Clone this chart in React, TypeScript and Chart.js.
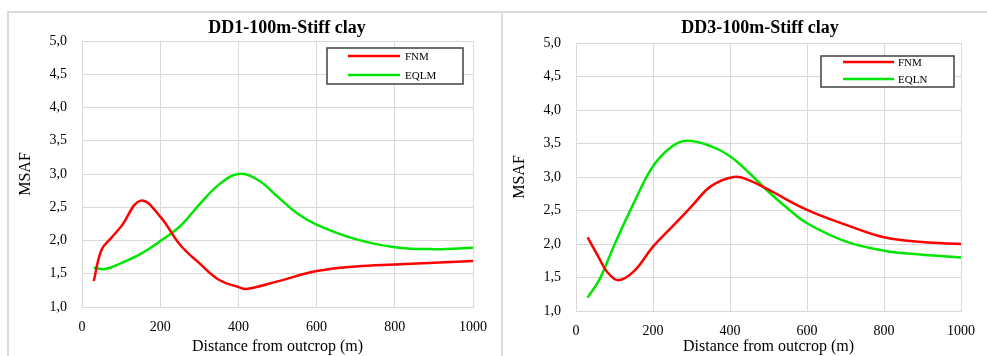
import React, { useEffect, useRef } from "react";
import { Chart, registerables } from "chart.js";

Chart.register(...registerables);

// ---------- data ----------
const xTickValues = [0, 200, 400, 600, 800, 1000];
const yTickValues = [1.0, 1.5, 2.0, 2.5, 3.0, 3.5, 4.0, 4.5, 5.0];

const dd1Title = "DD1-100m-Stiff clay";
const dd1Labels = ["FNM", "EQLM"];
const dd1FnmX = [30, 50, 75, 100, 150, 200, 250, 300, 350, 400, 420, 500, 600, 700, 800, 1000];
const dd1FnmY = [1.39, 1.86, 2.04, 2.21, 2.6, 2.36, 1.94, 1.66, 1.41, 1.3, 1.27, 1.385, 1.54, 1.61, 1.64, 1.69];
const dd1EqlX = [30, 60, 100, 150, 200, 250, 300, 350, 400, 450, 500, 550, 600, 700, 800, 900, 1000];
const dd1EqlY = [1.59, 1.57, 1.66, 1.8, 1.99, 2.21, 2.54, 2.84, 3.0, 2.91, 2.66, 2.41, 2.24, 2.02, 1.9, 1.87, 1.89];

const dd3Title = "DD3-100m-Stiff clay";
const dd3Labels = ["FNM", "EQLN"];
const dd3FnmX = [30, 60, 80, 110, 150, 200, 250, 300, 350, 410, 450, 500, 600, 700, 800, 900, 1000];
const dd3FnmY = [2.1, 1.79, 1.59, 1.46, 1.59, 1.96, 2.26, 2.56, 2.86, 3.0, 2.95, 2.81, 2.51, 2.29, 2.1, 2.03, 2.0];
const dd3EqlX = [30, 60, 100, 150, 200, 250, 290, 350, 400, 450, 500, 550, 600, 700, 800, 900, 1000];
const dd3EqlY = [1.2, 1.46, 1.99, 2.61, 3.16, 3.46, 3.54, 3.46, 3.31, 3.06, 2.78, 2.53, 2.31, 2.04, 1.9, 1.84, 1.8];

const xAxisTitle = "Distance from outcrop (m)";
const yAxisTitle = "MSAF";

const RED = "#ff0000";
const GREEN = "#00e600";
const GRID = "#d9d9d9";
const SERIF = "'Liberation Serif', 'Times New Roman', serif";

type PanelProps = {
  left: number;
  top: number;
  width: number;
  height: number;
  plotLeft: number;
  plotRight: number;
  plotTop: number;
  plotBottom: number;
  title: string;
  titleX: number;
  titleY: number;
  labels: string[];
  seriesA: { x: number[]; y: number[] };
  seriesB: { x: number[]; y: number[] };
  legendBox: { x: number; y: number; w: number; h: number; lineX1: number; lineX2: number; textX: number; row1: number; row2: number };
};

function toPoints(xs: number[], ys: number[]) {
  return xs.map((x, i) => ({ x, y: ys[i] }));
}

function Panel(p: PanelProps) {
  const ref = useRef<HTMLCanvasElement | null>(null);
  useEffect(() => {
    if (!ref.current) return;
    const titlePlugin = {
      id: "panelTitle",
      afterDraw(chart: any) {
        const ctx = chart.ctx;
        ctx.save();
        ctx.font = `bold 18px ${SERIF}`;
        ctx.fillStyle = "#000";
        ctx.textAlign = "center";
        ctx.textBaseline = "middle";
        ctx.fillText(p.title, p.titleX, p.titleY);
        ctx.restore();
      },
    };
    const legendPlugin = {
      id: "boxLegend",
      afterDraw(chart: any) {
        const ctx = chart.ctx;
        const b = p.legendBox;
        ctx.save();
        ctx.fillStyle = "#fff";
        ctx.fillRect(b.x, b.y, b.w, b.h);
        ctx.strokeStyle = "#404040";
        ctx.lineWidth = 1.5;
        ctx.strokeRect(b.x, b.y, b.w, b.h);
        const rows = [b.row1, b.row2];
        chart.data.datasets.forEach((ds: any, i: number) => {
          ctx.strokeStyle = ds.borderColor;
          ctx.lineWidth = 2.5;
          ctx.beginPath();
          ctx.moveTo(b.lineX1, rows[i]);
          ctx.lineTo(b.lineX2, rows[i]);
          ctx.stroke();
          ctx.fillStyle = "#000";
          ctx.font = `11px ${SERIF}`;
          ctx.textAlign = "left";
          ctx.textBaseline = "middle";
          ctx.fillText(ds.label, b.textX, rows[i] + 1);
        });
        ctx.restore();
      },
    };
    const chart = new Chart(ref.current, {
      type: "line",
      data: {
        datasets: [
          {
            label: p.labels[0],
            data: toPoints(p.seriesA.x, p.seriesA.y),
            borderColor: RED,
            backgroundColor: RED,
            borderWidth: 2.5,
            pointRadius: 0,
            tension: 0.4,
          },
          {
            label: p.labels[1],
            data: toPoints(p.seriesB.x, p.seriesB.y),
            borderColor: GREEN,
            backgroundColor: GREEN,
            borderWidth: 2.5,
            pointRadius: 0,
            tension: 0.4,
          },
        ],
      },
      options: {
        animation: false,
        responsive: false,
        maintainAspectRatio: false,
        layout: {
          padding: { left: 0, top: p.plotTop, right: p.width - p.plotRight, bottom: 0 },
        },
        plugins: {
          legend: { display: false },
          title: { display: false },
          tooltip: { enabled: false },
        },
        scales: {
          x: {
            type: "linear",
            min: 0,
            max: 1000,
            afterBuildTicks: (s: any) => {
              s.ticks = xTickValues.map((v) => ({ value: v }));
            },
            afterFit: (s: any) => {
              s.height = p.height - p.plotBottom;
            },
            grid: { color: GRID, lineWidth: 1, drawTicks: false },
            border: { color: GRID, width: 1 },
            ticks: {
              padding: 12,
              color: "#000",
              font: { family: SERIF, size: 14 },
              maxRotation: 0,
              callback: (v: any) => String(v),
            },
            title: {
              display: true,
              text: xAxisTitle,
              color: "#000",
              font: { family: SERIF, size: 16 },
              padding: { top: 0, bottom: 0 },
            },
          },
          y: {
            type: "linear",
            min: 1,
            max: 5,
            afterBuildTicks: (s: any) => {
              s.ticks = yTickValues.map((v) => ({ value: v }));
            },
            afterFit: (s: any) => {
              s.width = p.plotLeft;
            },
            grid: { color: GRID, lineWidth: 1, drawTicks: false },
            border: { color: GRID, width: 1 },
            ticks: {
              padding: 15,
              color: "#000",
              font: { family: SERIF, size: 14 },
              callback: (v: any) => Number(v).toFixed(1).replace(".", ","),
            },
            title: {
              display: true,
              text: yAxisTitle,
              color: "#000",
              font: { family: SERIF, size: 16 },
              padding: { top: 8, bottom: 0 },
            },
          },
        },
      },
      plugins: [titlePlugin, legendPlugin],
    } as any);
    return () => chart.destroy();
  }, []);
  return (
    <canvas
      ref={ref}
      width={p.width}
      height={p.height}
      style={{ position: "absolute", left: p.left, top: p.top, width: p.width, height: p.height }}
    />
  );
}

export default function App() {
  return (
    <div style={{ position: "absolute", left: 0, top: 0, width: 987, height: 356, overflow: "hidden", background: "#fff" }}>
      <Panel
        left={8}
        top={12}
        width={494}
        height={344}
        plotLeft={74}
        plotRight={465}
        plotTop={29}
        plotBottom={295}
        title={dd1Title}
        titleX={279}
        titleY={16}
        labels={dd1Labels}
        seriesA={{ x: dd1FnmX, y: dd1FnmY }}
        seriesB={{ x: dd1EqlX, y: dd1EqlY }}
        legendBox={{ x: 319, y: 36, w: 136, h: 36, lineX1: 340, lineX2: 392, textX: 397, row1: 44, row2: 63 }}
      />
      <Panel
        left={502}
        top={12}
        width={485}
        height={344}
        plotLeft={74}
        plotRight={464}
        plotTop={31}
        plotBottom={299}
        title={dd3Title}
        titleX={258}
        titleY={16}
        labels={dd3Labels}
        seriesA={{ x: dd3FnmX, y: dd3FnmY }}
        seriesB={{ x: dd3EqlX, y: dd3EqlY }}
        legendBox={{ x: 319, y: 44, w: 133, h: 31, lineX1: 341, lineX2: 392, textX: 396, row1: 50, row2: 67 }}
      />
      <div style={{ position: "absolute", left: 7, top: 11, width: 980, height: 2, background: "#dcdcdc" }} />
      <div style={{ position: "absolute", left: 7, top: 11, width: 2, height: 345, background: "#dcdcdc" }} />
      <div style={{ position: "absolute", left: 501, top: 11, width: 2, height: 345, background: "#dcdcdc" }} />
    </div>
  );
}
